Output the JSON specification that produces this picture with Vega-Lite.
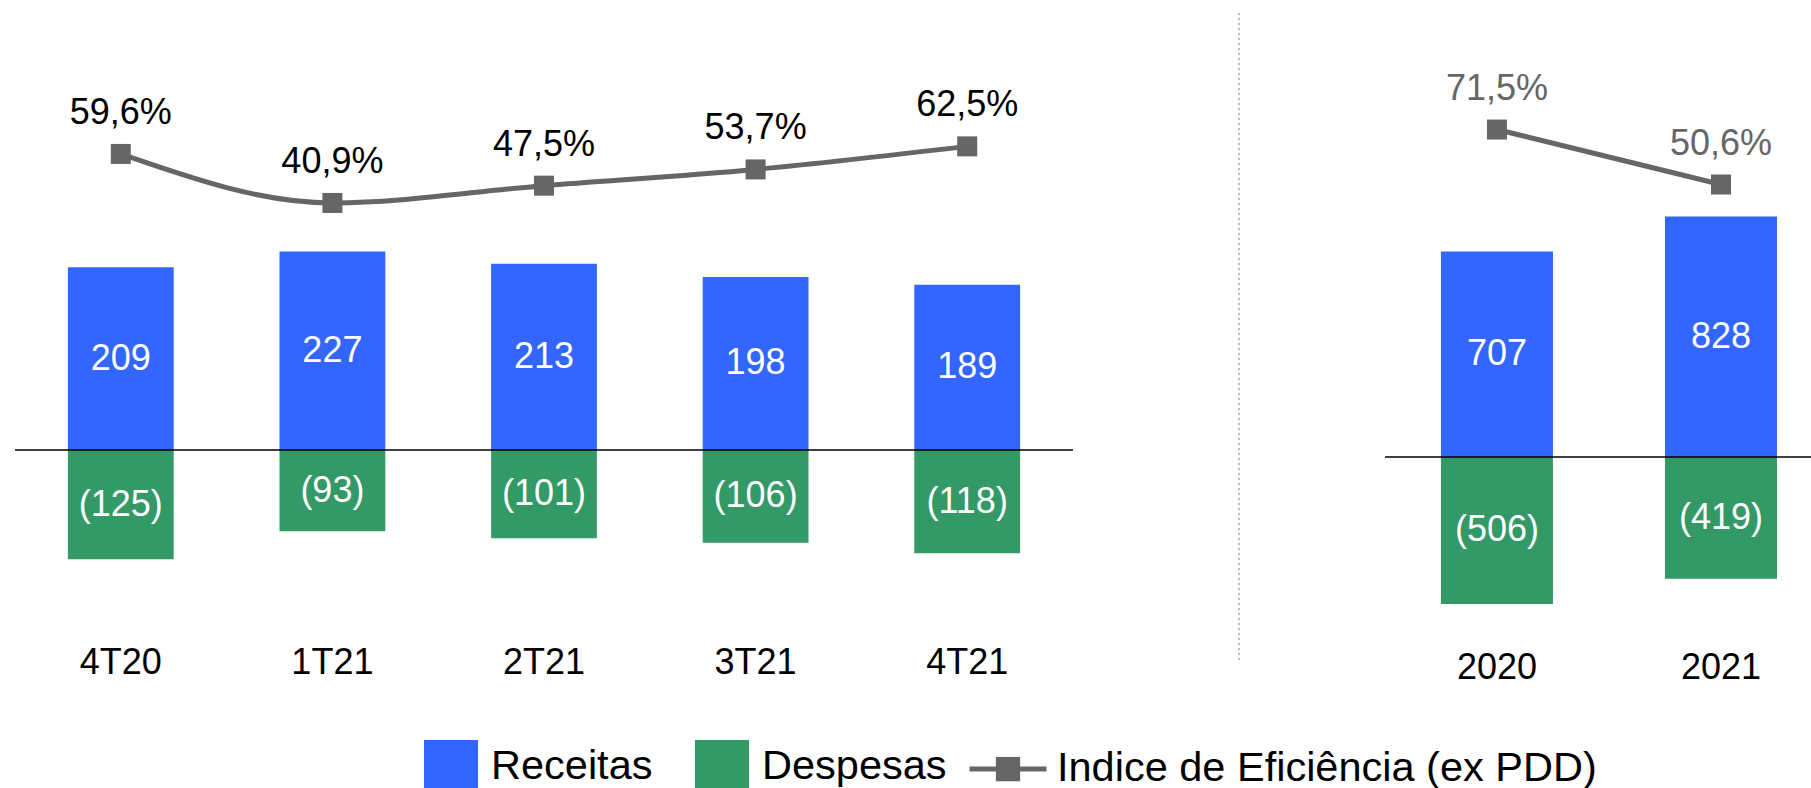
{
  "$schema": "https://vega.github.io/schema/vega-lite/v6.json",
  "padding": {"left": 14, "top": 12, "right": 0, "bottom": 0},
  "background": "white",
  "spacing": 0,
  "bounds": "flush",
  "config": {
    "font": "Liberation Sans",
    "view": {"stroke": null},
    "locale": {"number": {"decimal": ",", "thousands": ".", "grouping": [3], "currency": ["", ""]}},
    "axis": {"domain": false, "ticks": false, "grid": false, "labelFontSize": 36, "labelColor": "black", "labelFont": "Liberation Sans", "labelAngle": 0},
    "legend": {"labelFont": "Liberation Sans", "labelColor": "black"}
  },
  "datasets": {
    "quarters": [
      {"period": "4T20", "type": "Receitas", "value": 209},
      {"period": "4T20", "type": "Despesas", "value": -125},
      {"period": "1T21", "type": "Receitas", "value": 227},
      {"period": "1T21", "type": "Despesas", "value": -93},
      {"period": "2T21", "type": "Receitas", "value": 213},
      {"period": "2T21", "type": "Despesas", "value": -101},
      {"period": "3T21", "type": "Receitas", "value": 198},
      {"period": "3T21", "type": "Despesas", "value": -106},
      {"period": "4T21", "type": "Receitas", "value": 189},
      {"period": "4T21", "type": "Despesas", "value": -118}
    ],
    "quarterIdx": [
      {"period": "4T20", "series": "Indice de Eficiência (ex PDD)", "pct": 0.596},
      {"period": "1T21", "series": "Indice de Eficiência (ex PDD)", "pct": 0.409},
      {"period": "2T21", "series": "Indice de Eficiência (ex PDD)", "pct": 0.475},
      {"period": "3T21", "series": "Indice de Eficiência (ex PDD)", "pct": 0.537},
      {"period": "4T21", "series": "Indice de Eficiência (ex PDD)", "pct": 0.625}
    ],
    "years": [
      {"period": "2020", "type": "Receitas", "value": 707},
      {"period": "2020", "type": "Despesas", "value": -506},
      {"period": "2021", "type": "Receitas", "value": 828},
      {"period": "2021", "type": "Despesas", "value": -419}
    ],
    "yearIdx": [
      {"period": "2020", "series": "Indice de Eficiência (ex PDD)", "pct": 0.715},
      {"period": "2021", "series": "Indice de Eficiência (ex PDD)", "pct": 0.506}
    ]
  },
  "hconcat": [
    {
      "width": 1058,
      "height": 600,
      "layer": [
        {
          "data": {"name": "quarters"},
          "mark": {"type": "bar"},
          "encoding": {
            "x": {"field": "period", "type": "nominal", "scale": {"domain": ["4T20", "1T21", "2T21", "3T21", "4T21"], "paddingInner": 0.5, "paddingOuter": 0.25}, "axis": {"title": null, "labelPadding": 32, "orient": "bottom"}},
            "y": {"field": "value", "type": "quantitative", "scale": {"domain": [-186.5, 500], "nice": false, "zero": false}, "axis": null},
            "fill": {"field": "type", "type": "nominal", "scale": {"domain": ["Receitas", "Despesas"], "range": ["#3366FF", "#339966"]},
              "legend": {"orient": "none", "legendX": 409, "legendY": 727, "direction": "horizontal", "title": null, "symbolType": "square", "symbolSize": 2916, "symbolStrokeWidth": 0, "labelFontSize": 41.5, "labelOffset": 13, "columnPadding": 42, "labelLimit": 0, "padding": 0}}
          }
        },
        {
          "data": {"values": [{}]},
          "mark": {"type": "rule", "color": "black", "strokeWidth": 1.5},
          "encoding": {"y": {"datum": 0, "type": "quantitative", "scale": {"domain": [-186.5, 500], "nice": false, "zero": false}, "axis": null}}
        },
        {
          "data": {"name": "quarters"},
          "mark": {"type": "text", "color": "white", "fontSize": 36, "baseline": "middle"},
          "encoding": {
            "x": {"field": "period", "type": "nominal"},
            "y": {"field": "value", "type": "quantitative", "scale": {"domain": [-373, 1000], "nice": false, "zero": false}, "axis": null},
            "text": {"field": "value", "type": "quantitative", "format": "(d"}
          }
        },
        {
          "data": {"name": "quarterIdx"},
          "mark": {"type": "line", "interpolate": "monotone", "strokeWidth": 5},
          "encoding": {
            "x": {"field": "period", "type": "nominal"},
            "y": {"field": "pct", "type": "quantitative", "scale": {"domain": [-1.156, 1.134], "nice": false, "zero": false}, "axis": null},
            "stroke": {"field": "series", "type": "nominal", "scale": {"domain": ["Indice de Eficiência (ex PDD)"], "range": ["#666666"]},
              "legend": {"orient": "none", "legendX": 952, "legendY": 715, "title": null, "symbolType": "M-1,0H1M-0.25,-0.25H0.25V0.25H-0.25Z", "symbolSize": 5929, "symbolStrokeWidth": 5, "symbolFillColor": "#666666", "symbolStrokeColor": "#666666", "labelFontSize": 41.5, "labelOffset": 8, "labelLimit": 0, "padding": 0}}
          }
        },
        {
          "data": {"name": "quarterIdx"},
          "mark": {"type": "point", "shape": "square", "filled": true, "size": 400, "color": "#666666", "opacity": 1},
          "encoding": {
            "x": {"field": "period", "type": "nominal"},
            "y": {"field": "pct", "type": "quantitative", "scale": {"domain": [-1.156, 1.134], "nice": false, "zero": false}, "axis": null}
          }
        },
        {
          "data": {"name": "quarterIdx"},
          "mark": {"type": "text", "color": "black", "fontSize": 36, "baseline": "alphabetic", "dy": -30},
          "encoding": {
            "x": {"field": "period", "type": "nominal"},
            "y": {"field": "pct", "type": "quantitative", "scale": {"domain": [-1.156, 1.134], "nice": false, "zero": false}, "axis": null},
            "text": {"field": "pct", "type": "quantitative", "format": ".1%"}
          }
        }
      ],
      "resolve": {"scale": {"y": "independent"}}
    },
    {
      "width": 312,
      "height": 649,
      "data": {"values": [{}]},
      "mark": {"type": "rule", "color": "#a6a6a6", "strokeDash": [2, 3], "strokeWidth": 1.5},
      "encoding": {"x": {"datum": 0.532, "type": "quantitative", "scale": {"domain": [0, 1], "nice": false}, "axis": null}}
    },
    {
      "width": 427,
      "height": 600,
      "layer": [
        {
          "data": {"name": "years"},
          "mark": {"type": "bar"},
          "encoding": {
            "x": {"field": "period", "type": "nominal", "scale": {"domain": ["2020", "2021"], "paddingInner": 0.5, "paddingOuter": 0.203, "align": 0.615}, "axis": {"title": null, "labelPadding": 37, "orient": "bottom"}},
            "y": {"field": "value", "type": "quantitative", "scale": {"domain": [-537, 1528], "nice": false, "zero": false}, "axis": null},
            "fill": {"field": "type", "type": "nominal", "scale": {"domain": ["Receitas", "Despesas"], "range": ["#3366FF", "#339966"]},
              "legend": {"orient": "none", "legendX": 409, "legendY": 727, "direction": "horizontal", "title": null, "symbolType": "square", "symbolSize": 2916, "symbolStrokeWidth": 0, "labelFontSize": 41.5, "labelOffset": 13, "columnPadding": 42, "labelLimit": 0, "padding": 0}}
          }
        },
        {
          "data": {"values": [{}]},
          "mark": {"type": "rule", "color": "black", "strokeWidth": 1.5},
          "encoding": {"y": {"datum": 0, "type": "quantitative", "scale": {"domain": [-537, 1528], "nice": false, "zero": false}, "axis": null}}
        },
        {
          "data": {"name": "years"},
          "mark": {"type": "text", "color": "white", "fontSize": 36, "baseline": "middle"},
          "encoding": {
            "x": {"field": "period", "type": "nominal"},
            "y": {"field": "value", "type": "quantitative", "scale": {"domain": [-1074, 3056], "nice": false, "zero": false}, "axis": null},
            "text": {"field": "value", "type": "quantitative", "format": "(d"}
          }
        },
        {
          "data": {"name": "yearIdx"},
          "mark": {"type": "line", "strokeWidth": 5},
          "encoding": {
            "x": {"field": "period", "type": "nominal"},
            "y": {"field": "pct", "type": "quantitative", "scale": {"domain": [-1.123, 1.158], "nice": false, "zero": false}, "axis": null},
            "stroke": {"field": "series", "type": "nominal", "scale": {"domain": ["Indice de Eficiência (ex PDD)"], "range": ["#666666"]},
              "legend": {"orient": "none", "legendX": 952, "legendY": 715, "title": null, "symbolType": "M-1,0H1M-0.25,-0.25H0.25V0.25H-0.25Z", "symbolSize": 5929, "symbolStrokeWidth": 5, "symbolFillColor": "#666666", "symbolStrokeColor": "#666666", "labelFontSize": 41.5, "labelOffset": 8, "labelLimit": 0, "padding": 0}}
          }
        },
        {
          "data": {"name": "yearIdx"},
          "mark": {"type": "point", "shape": "square", "filled": true, "size": 400, "color": "#666666", "opacity": 1},
          "encoding": {
            "x": {"field": "period", "type": "nominal"},
            "y": {"field": "pct", "type": "quantitative", "scale": {"domain": [-1.123, 1.158], "nice": false, "zero": false}, "axis": null}
          }
        },
        {
          "data": {"name": "yearIdx"},
          "mark": {"type": "text", "color": "#666666", "fontSize": 36, "baseline": "alphabetic", "dy": -30},
          "encoding": {
            "x": {"field": "period", "type": "nominal"},
            "y": {"field": "pct", "type": "quantitative", "scale": {"domain": [-1.123, 1.158], "nice": false, "zero": false}, "axis": null},
            "text": {"field": "pct", "type": "quantitative", "format": ".1%"}
          }
        }
      ],
      "resolve": {"scale": {"y": "independent"}}
    }
  ]
}
